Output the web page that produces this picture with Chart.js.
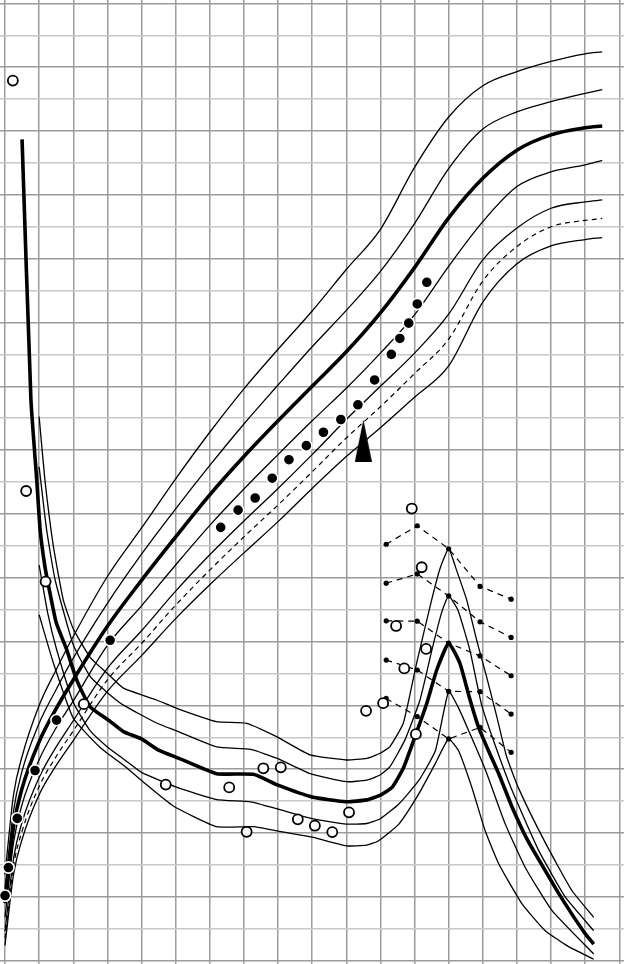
<!DOCTYPE html>
<html>
<head>
<meta charset="utf-8">
<script src="https://cdn.jsdelivr.net/npm/chart.js@4"></script>
<style>
html,body{margin:0;padding:0;background:#fff;}
canvas{display:block;}
</style>
</head>
<body>
<canvas id="c" width="624" height="964"></canvas>
<script>
// ---- axis ticks ----
const ageTicks = [0,1,2,3,4,5,6,7,8,9,10,11,12,13,14,15,16,17,18];
const heightTicks = [];
for (let h = 40; h <= 190; h += 5) heightTicks.push(h);

// ---- height reference curves (cm) ----
const hAges = [0, 0.25, 0.5, 1, 1.5, 2, 3, 4, 5, 6, 7, 8, 9, 10, 11, 12, 13, 14, 15, 16, 17, 17.5];
const hP2  = [53.5, 66.0, 72.0, 80.0, 85.6, 90.8, 100.2, 107.8, 115.5, 122.8, 129.6, 135.8, 141.8, 148.3, 154.6, 164.3, 172.2, 177.1, 179.3, 180.9, 182.1, 182.4];
const hP1  = [51.3, 63.5, 69.7, 77.2, 82.5, 87.4, 96.0, 103.7, 110.8, 117.6, 124.1, 130.2, 136.2, 141.9, 148.0, 155.5, 164.1, 170.3, 173.0, 174.6, 175.9, 176.5];
const hM   = [49.0, 61.0, 67.0, 74.3, 79.5, 84.0, 92.4, 99.6, 106.4, 113.0, 119.0, 124.6, 130.0, 135.4, 141.5, 148.6, 156.4, 162.6, 167.0, 169.4, 170.5, 170.8];
const hM1  = [46.8, 58.5, 64.5, 71.5, 76.5, 80.7, 89.4, 95.6, 102.0, 108.2, 113.9, 119.3, 124.6, 129.7, 135.2, 141.2, 148.8, 155.8, 161.3, 163.6, 164.7, 165.4];
const hM2  = [44.6, 56.0, 61.7, 68.7, 73.5, 77.6, 85.8, 91.7, 97.9, 103.6, 108.9, 114.0, 119.3, 124.8, 130.0, 135.2, 141.3, 149.8, 154.8, 157.9, 158.9, 159.2];
const hM25 = [43.5, 54.8, 60.3, 67.3, 72.0, 76.0, 84.0, 89.7, 95.7, 101.2, 106.4, 111.4, 116.6, 121.9, 126.8, 132.0, 137.4, 146.5, 151.9, 155.0, 156.0, 156.3];
const hM3  = [42.4, 53.5, 59.0, 66.0, 70.6, 74.5, 82.2, 87.8, 93.6, 98.9, 103.9, 108.8, 114.0, 119.0, 123.5, 128.3, 133.2, 143.2, 149.2, 152.0, 153.0, 153.3];

// ---- height velocity reference curves (cm/yr) ----
const vP2Ages = [1.0, 1.17, 1.42, 1.71, 2.0, 2.5, 3.0, 3.47, 4.44, 5.03, 6.2, 7.08, 7.96, 8.94, 10.01, 10.6, 10.99, 11.28, 11.67, 12.06, 12.5, 12.75, 13.0, 13.23, 13.53, 13.82, 14.11, 14.41, 14.7, 15.05, 15.83, 16.61, 17.25];
const vP2     = [17.05, 15.06, 12.97, 11.3, 10.4, 9.5, 9.0, 8.54, 8.17, 7.91, 7.49, 7.44, 7.02, 6.45, 6.29, 6.34, 6.5, 6.71, 7.44, 9.32, 11.3, 12.3, 12.91, 12.24, 11.3, 10.05, 8.9, 7.65, 6.39, 5.4, 3.7, 2.2, 1.36];
const vP1Ages = [1.0, 1.22, 1.47, 2.0, 2.5, 3.0, 3.47, 4.44, 5.03, 6.2, 7.2, 8.0, 8.94, 10.01, 10.6, 10.99, 11.28, 11.72, 12.16, 12.51, 12.8, 13.0, 13.27, 13.62, 13.97, 14.36, 14.86, 15.64, 16.42, 17.25];
const vP1     = [15.48, 13.5, 11.93, 9.9, 8.9, 8.4, 8.01, 7.45, 7.2, 6.7, 6.62, 6.33, 5.86, 5.61, 5.66, 5.82, 6.08, 6.92, 8.17, 9.74, 10.93, 11.43, 10.99, 9.74, 8.0, 6.76, 5.33, 3.45, 1.99, 0.94];
const vMAges  = [0.5, 0.76, 0.93, 1.03, 1.17, 1.32, 1.5, 1.81, 2.1, 2.49, 3.08, 3.47, 4.0, 4.5, 5.1, 6.2, 7.28, 8.0, 9.0, 10.0, 10.6, 11.0, 11.34, 11.67, 12.04, 12.36, 12.65, 13.0, 13.33, 13.62, 13.88, 14.2, 14.47, 14.86, 15.3, 15.83, 16.2, 16.61, 17.0, 17.25];
const vM      = [25.74, 17.57, 15.06, 13.5, 12.35, 11.51, 10.6, 9.74, 8.8, 7.96, 7.5, 7.18, 6.95, 6.6, 6.34, 5.86, 5.84, 5.5, 5.13, 4.98, 5.04, 5.19, 5.43, 6.03, 7.1, 8.07, 9.11, 9.95, 9.32, 8.2, 7.3, 6.5, 5.85, 4.81, 3.8, 2.82, 2.15, 1.46, 0.85, 0.52];
const vM1Ages = [1.0, 1.25, 1.5, 2.0, 2.5, 3.0, 3.5, 4.0, 5.0, 6.2, 7.2, 8.0, 9.0, 10.0, 10.6, 11.0, 11.54, 12.12, 12.61, 13.0, 13.3, 13.59, 14.07, 14.66, 15.24, 16.03, 17.25];
const vM1     = [12.4, 10.9, 9.8, 8.1, 7.2, 6.7, 6.3, 5.9, 5.45, 5.05, 4.98, 4.75, 4.45, 4.28, 4.3, 4.45, 4.91, 5.64, 6.58, 8.44, 7.9, 7.2, 6.0, 4.28, 2.93, 1.57, 0.21];
const vM2Ages = [1.0, 1.42, 2.0, 2.78, 3.5, 4.05, 4.93, 6.2, 7.28, 8.06, 9.0, 10.0, 10.6, 10.95, 11.54, 12.12, 12.6, 13.0, 13.29, 13.68, 14.07, 14.47, 15.15, 15.83, 16.5, 17.25];
const vM2     = [10.84, 9.32, 7.6, 6.69, 6.1, 5.6, 4.85, 4.2, 4.2, 4.05, 3.87, 3.6, 3.62, 3.76, 4.28, 5.22, 6.16, 6.95, 6.58, 5.43, 4.07, 3.03, 1.78, 0.94, 0.45, 0.05];

// ---- dashed velocity guide lines ----
const vGuideAges = [11.17, 12.08, 13.0, 13.92, 14.83];
const vGuide1 = [13.05, 13.63, 12.91, 11.73, 11.33];
const vGuide2 = [11.83, 12.12, 11.43, 10.62, 10.13];
const vGuide3 = [10.65, 10.64, 9.95, 9.55, 8.93];
const vGuide4 = [9.42, 9.11, 8.44, 8.43, 7.73];
const vGuide5 = [8.22, 7.65, 6.95, 7.31, 6.53];

// ---- patient: measured height (cm) ----
const ptHAges = [0, 0.1, 0.36, 0.88, 1.51, 3.08, 6.32, 6.83, 7.33, 7.83, 8.32, 8.83, 9.33, 9.84, 10.34, 10.83, 11.32, 11.57, 11.83, 12.08, 12.36];
const ptH     = [50.2, 54.6, 62.3, 69.8, 77.7, 90.2, 107.9, 110.6, 112.5, 115.6, 118.5, 120.7, 122.8, 124.8, 127.1, 131.0, 135.0, 137.5, 139.9, 142.9, 146.3];

// ---- patient: height velocity (cm/yr) ----
const ptVAges = [0.23, 0.62, 1.19, 2.31, 4.71, 6.57, 7.08, 7.57, 8.08, 8.58, 9.08, 9.59, 10.08, 10.58, 11.08, 11.46, 11.7, 11.92, 12.04, 12.21, 12.34];
const ptV     = [27.58, 14.72, 11.88, 8.04, 5.52, 5.43, 4.04, 6.03, 6.06, 4.43, 4.23, 4.03, 4.65, 7.83, 8.07, 10.49, 9.16, 14.17, 7.10, 12.33, 9.77];

// ---- treatment start marker ----
const markerAge = [10.5];
const markerHeight = [121.5];

// ---------------------------------------------------------------
const pts = (xs, ys) => xs.map((x, i) => ({x: x, y: ys[i]}));

const tri = document.createElement('canvas');
tri.width = 17; tri.height = 42;
(function(){
  const g = tri.getContext('2d');
  g.fillStyle = '#000';
  g.beginPath();
  g.moveTo(8.5, 0); g.lineTo(17, 42); g.lineTo(0, 42); g.closePath();
  g.fill();
})();

function hLine(vals, w, dash) {
  return {type:'line', data: pts(hAges, vals), yAxisID:'yH', borderColor:'#000', borderWidth:w,
    borderDash: dash || [], pointRadius:0, cubicInterpolationMode:'monotone', fill:false, order:10};
}
function vLine(ages, vals, w) {
  return {type:'line', data: pts(ages, vals), yAxisID:'yV', borderColor:'#000', borderWidth:w,
    pointRadius:0, tension:0.15, fill:false, order:10};
}
function gLine(vals) {
  return {type:'line', data: pts(vGuideAges, vals), yAxisID:'yV', borderColor:'#000', borderWidth:1.2,
    borderDash:[6,5], pointRadius:2.6, pointBackgroundColor:'#000', pointBorderWidth:0, tension:0, fill:false, order:6};
}

const datasets = [
  hLine(hP2, 1.3), hLine(hP1, 1.3), hLine(hM, 3.6), hLine(hM1, 1.3), hLine(hM2, 1.3),
  hLine(hM25, 1.2, [5,4]), hLine(hM3, 1.3),
  vLine(vP2Ages, vP2, 1.3), vLine(vP1Ages, vP1, 1.3), vLine(vMAges, vM, 3.6),
  vLine(vM1Ages, vM1, 1.3), vLine(vM2Ages, vM2, 1.3),
  gLine(vGuide1), gLine(vGuide2), gLine(vGuide3), gLine(vGuide4), gLine(vGuide5),
  {type:'line', data: pts(ptHAges, ptH), yAxisID:'yH', showLine:false, pointRadius:5.6,
    pointBackgroundColor:'#000', pointBorderColor:'#fff', pointBorderWidth:1.6, order:2},
  {type:'line', data: pts(ptVAges, ptV), yAxisID:'yV', showLine:false, pointRadius:5,
    pointBackgroundColor:'#fff', pointBorderColor:'#000', pointBorderWidth:1.8, order:1},
  {type:'line', data: pts(markerAge, markerHeight), yAxisID:'yH', showLine:false, pointRadius:10,
    pointStyle: tri, order:3}
];

const DARK = '#9c9c9c', LIGHT = '#c8c8c8';
new Chart(document.getElementById('c'), {
  type: 'line',
  data: {datasets: datasets},
  options: {
    responsive:false, animation:false, events:[],
    layout:{padding:0, autoPadding:false},
    plugins:{legend:{display:false}, tooltip:{enabled:false}},
    scales:{
      x:{type:'linear', position:'bottom', min:-0.1465, max:18.1377,
        afterBuildTicks: s => { s.ticks = ageTicks.map(v => ({value:v})); },
        ticks:{display:false, padding:0}, border:{display:false},
        grid:{color:DARK, lineWidth:1.5, drawTicks:false, tickLength:0}},
      yH:{type:'linear', position:'left', min:39.483, max:190.53,
        afterBuildTicks: s => { s.ticks = heightTicks.map(v => ({value:v})); },
        ticks:{display:false, padding:0}, border:{display:false},
        grid:{drawTicks:false, tickLength:0, lineWidth:1.5,
          color: c => (c.tick && c.tick.value % 10 === 0) ? DARK : LIGHT}},
      yV:{type:'linear', display:false, min:-0.1034, max:30.106}
    }
  }
});
</script>
</body>
</html>
